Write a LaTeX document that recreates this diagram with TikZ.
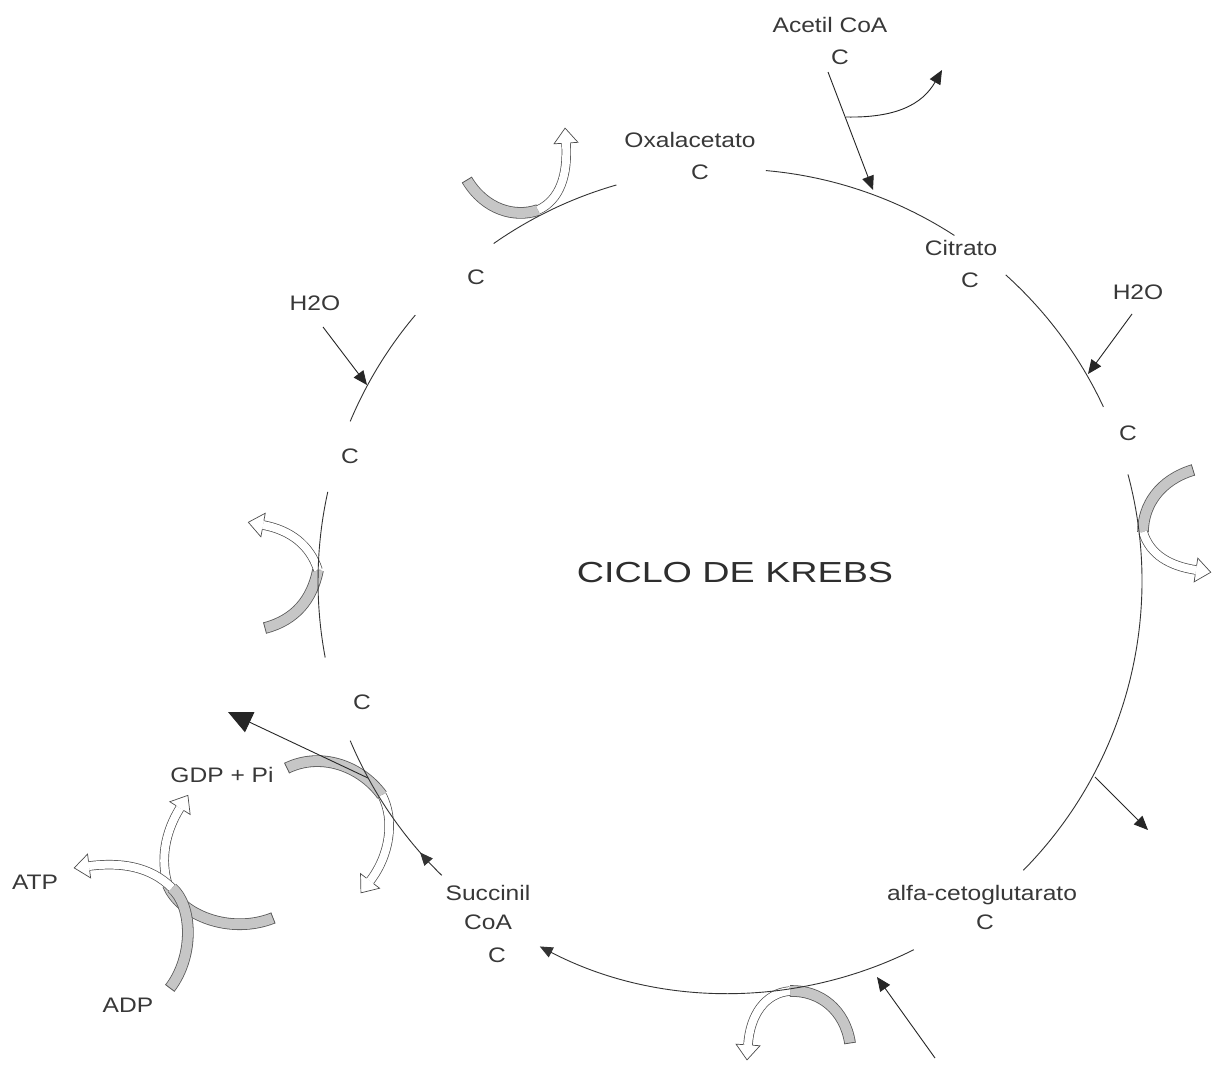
\documentclass[tikz,border=0pt]{standalone}
\usepackage{fontspec}
\newfontfamily\lblfont[FakeStretch=1.17]{Liberation Sans}
\newfontfamily\ttlfont[FakeStretch=1.3]{Liberation Sans}
\usetikzlibrary{arrows.meta,decorations.markings}
\begin{document}
\begin{tikzpicture}[x=1pt,y=-1pt,
  cyc/.style={draw=black!80, line width=0.9pt},
  blk/.style={draw=black!85, line width=0.9pt, -{Triangle[length=14pt,width=12pt]}},
  cyctip/.style={draw=black!80, line width=0.9pt, -{Triangle[length=13pt,width=11pt]}},
  bigblk/.style={draw=black!85, line width=0.9pt, -{Triangle[length=24pt,width=22pt]}},
  wht/.style={draw=black!70, line width=0.7pt, double=white, double distance=8pt,
    postaction={decorate,decoration={markings,mark=at position 0.999 with {\filldraw[draw=black!70,fill=white,line width=0.7pt,line join=miter] (0,-4.5pt) -- (0,-12pt) -- (15pt,0) -- (0,12pt) -- (0,4.5pt);}}}},
  bnd/.style={draw=black!65, line width=0.8pt, double=gray!45, double distance=10pt,
    postaction={decorate,decoration={markings,mark=at position 0 with {\draw[black!65,line width=0.8pt] (0,-5.8pt) -- (0,5.8pt);}}}},
  lbl/.style={text=black!78, inner sep=0pt, text height=15pt, text depth=0pt, font=\lblfont\fontsize{21}{24}\selectfont},
  ttl/.style={text=black!82, inner sep=0pt, text height=21pt, text depth=0pt, font=\ttlfont\fontsize{29}{32}\selectfont}
]
\useasboundingbox (0,0) rectangle (1214,1068);
\fill[white] (0,0) rectangle (1214,1068);
\coordinate (O) at (730,581);

% labels
\node[lbl] (acetil) at (830,25) {Acetil CoA};
\node[lbl] (acetilC) at (840,57) {C};
\node[lbl] (oxa) at (690,140) {Oxalacetato};
\node[lbl] (oxaC) at (700,172) {C};
\node[lbl] (citrato) at (961,248) {Citrato};
\node[lbl] (citratoC) at (970,280) {C};
\node[lbl] (h2oR) at (1138,292) {H2O};
\node[lbl] (cR) at (1128,433) {C};
\node[lbl] (cTL) at (476,277) {C};
\node[lbl] (h2oL) at (315,303) {H2O};
\node[lbl] (cL) at (350,456) {C};
\node[ttl] (title) at (735,572) {CICLO DE KREBS};
\node[lbl] (cLL) at (362,702) {C};
\node[lbl] (gdp) at (222,775) {GDP + Pi};
\node[lbl] (atp) at (35,882) {ATP};
\node[lbl] (adp) at (128,1005) {ADP};
\node[lbl] (succ) at (488,893) {Succinil};
\node[lbl] (succCoA) at (488,922) {CoA};
\node[lbl] (succC) at (497,955) {C};
\node[lbl] (alfa) at (982,893) {alfa-cetoglutarato};
\node[lbl] (alfaC) at (985,922) {C};

% gray bands (free end -> touch point)
\draw[bnd] (467,180) .. controls (485,210) and (515,218) .. (538,210);
\draw[bnd] (1193,470) .. controls (1160,480) and (1143,505) .. (1143,532);
\draw[bnd] (265,628) .. controls (295,620) and (312,600) .. (318,570);
\draw[bnd] (850,1043) .. controls (845,1010) and (820,990) .. (790,991);
\draw[bnd] (287,768) .. controls (320,752) and (360,765) .. (382,795);
\draw[bnd] (273,918) .. controls (230,935) and (180,915) .. (168,885);
\draw[bnd] (170,988) .. controls (195,955) and (192,905) .. (172,888);

% white arrows (touch point -> head)
\draw[wht] (538,210) .. controls (560,200) and (568,175) .. (566,143);
\draw[wht] (1143,532) .. controls (1150,555) and (1170,566) .. (1196,570);
\draw[wht] (318,570) .. controls (310,545) and (290,530) .. (263,525);
\draw[wht] (790,991) .. controls (765,993) and (750,1015) .. (748,1045);
\draw[wht] (382,795) .. controls (395,820) and (390,855) .. (370,881);
\draw[wht] (168,885) .. controls (160,860) and (165,832) .. (180,808);
\draw[wht] (172,888) .. controls (150,866) and (120,862) .. (89,866);

% cycle arcs
\draw[cyc] (O) ++(-125:412) arc[start angle=-125,end angle=-106,radius=412];
\draw[cyc] (O) ++(-85:412) arc[start angle=-85,end angle=-57,radius=412];
\draw[cyc] (O) ++(-48:412) arc[start angle=-48,end angle=-25,radius=412];
\draw[cyc] (O) ++(-15:412) arc[start angle=-15,end angle=44.6,radius=412];
\draw[cyctip] (O) ++(63.5:412) arc[start angle=63.5,end angle=117.5,radius=412];
\draw[cyctip] (O) ++(134.4:412) arc[start angle=134.4,end angle=138.8,radius=412];
\draw[cyc] (O) ++(138:412) arc[start angle=138,end angle=157.2,radius=412];
\draw[cyc] (O) ++(169.3:412) arc[start angle=169.3,end angle=192.5,radius=412];
\draw[cyc] (O) ++(202.8:412) arc[start angle=202.8,end angle=220.2,radius=412];

% black arrows
\coordinate (acA) at (828,72);
\coordinate (acB) at (873,190);
\coordinate (acBr) at (846,117);
\coordinate (coaOut) at (942,70);
\draw[blk] (acA) -- (acB);
\draw[blk] (acBr) .. controls (895,118) and (922,105) .. (coaOut);
\coordinate (h2oRa) at (1132,314);
\coordinate (h2oRb) at (1088,374);
\draw[blk] (h2oRa) -- (h2oRb);
\coordinate (h2oLa) at (323,327);
\coordinate (h2oLb) at (367,385);
\draw[blk] (h2oLa) -- (h2oLb);
\coordinate (co2a) at (1095,777);
\coordinate (co2b) at (1148,830);
\draw[blk] (co2a) -- (co2b);
\coordinate (botA) at (935,1058);
\coordinate (botB) at (877,977);
\draw[blk] (botA) -- (botB);
\coordinate (longA) at (368,778);
\coordinate (longB) at (228,712);
\draw[bigblk] (longA) -- (longB);
\end{tikzpicture}
\end{document}
